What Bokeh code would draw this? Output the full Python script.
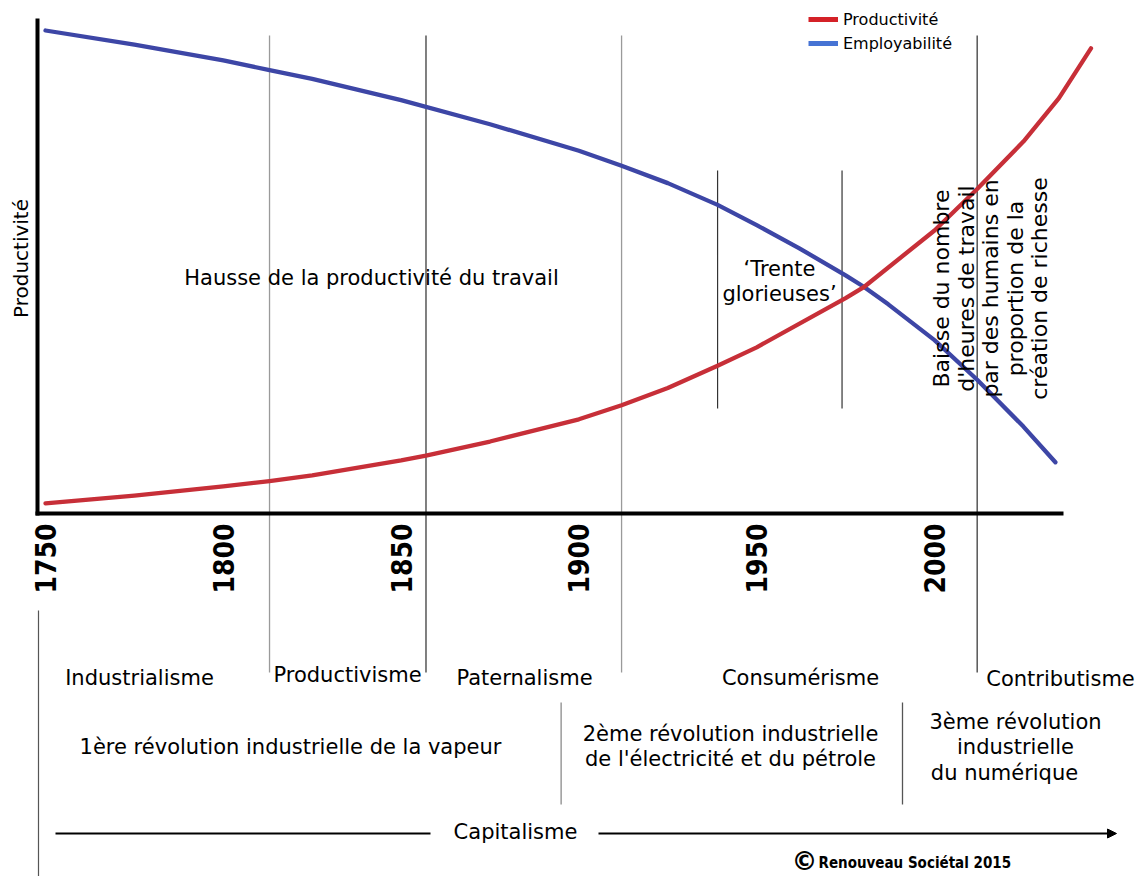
import math
import numpy as np
from bokeh.plotting import figure
from bokeh.models import (Range1d, LinearAxis, FixedTicker, Legend, LegendItem,
                          Arrow, NormalHead)
from bokeh.core.properties import value
from bokeh.embed import file_html
from bokeh.resources import INLINE

# ---------------- data ----------------
prod_years = [1750, 1775, 1800, 1813, 1825, 1850, 1857, 1875, 1900, 1912, 1925,
              1939, 1950, 1975, 1980, 2000, 2012, 2025, 2035, 2044]
prod_vals = [2.1, 3.7, 5.6, 6.7, 7.9, 11.0, 12.0, 14.9, 19.5, 22.4, 26.0,
             30.6, 34.4, 44.6, 46.8, 58.6, 67.2, 77.0, 86.0, 96.3]

emp_years = [1750, 1775, 1800, 1813, 1825, 1850, 1875, 1900, 1912, 1925, 1939, 1950,
             1962, 1975, 1980, 1987, 2000, 2012, 2025, 2034]
emp_vals = [100.0, 97.1, 93.8, 91.8, 90.0, 85.6, 80.6, 75.1, 72.0, 68.4, 63.9, 59.7,
            54.9, 49.3, 47.0, 43.3, 35.9, 27.7, 18.0, 10.6]

tick_years = [1750, 1800, 1850, 1900, 1950, 2000]
tick_labels = ["1750", "1800", "1850", "1900", "1950", "2000"]

era_bounds = [1813, 1857, 1912, 2012]          # ères (Productivisme, Paternalisme, ...)
trente_bounds = [1939, 1974]                   # Trente glorieuses
revolution_bounds = [1895, 1991]               # 1ère / 2ème / 3ème révolution

series_names = ["Productivité", "Employabilité"]

# ---------------- layout helpers (reference pixel -> data) ----------------
PPY = 3.556      # px per year
PPV = 4.83       # px per value unit


def xd(px):
    return 1750 + (px - 45) / PPY


def yd(py):
    return (513 - py) / PPV


W, H = 1138, 876
BODY = "DejaVu Sans"

p = figure(width=W, height=H,
           x_range=Range1d(xd(0), xd(W)),
           y_range=Range1d(yd(H), yd(0)),
           output_backend="svg", toolbar_location=None,
           x_axis_type=None, y_axis_type=None,
           min_border=0, outline_line_color=None,
           background_fill_color="white", border_fill_color="white")

# ---------------- vertical separators ----------------
era_colors = ["#9a9a9a", "#3c3c3c", "#9a9a9a", "#3c3c3c"]
p.segment(x0=era_bounds, y0=[yd(35)] * 4, x1=era_bounds, y1=[yd(672)] * 4,
          line_color=era_colors, line_width=1.3)
p.segment(x0=trente_bounds, y0=[yd(170)] * 2, x1=trente_bounds, y1=[yd(408)] * 2,
          line_color="#333333", line_width=1.2)
p.segment(x0=revolution_bounds, y0=[yd(702)] * 2, x1=revolution_bounds, y1=[yd(804)] * 2,
          line_color=["#8a8a8a", "#555555"], line_width=1.3)
p.segment(x0=[xd(38)], y0=[yd(610)], x1=[xd(38)], y1=[yd(885)],
          line_color="#555555", line_width=1.2)

# ---------------- curves ----------------
p.line(emp_years, emp_vals, line_color="#3d46a6", line_width=4.3,
       line_cap="round", line_join="round")
p.line(prod_years, prod_vals, line_color="#c72f38", line_width=4.3,
       line_cap="round", line_join="round")

# ---------------- axes ----------------
xaxis = LinearAxis(fixed_location=0, ticker=FixedTicker(ticks=tick_years),
                   bounds=(xd(35), xd(1063)),
                   axis_line_width=4, axis_line_color="black",
                   major_tick_line_color=None, minor_tick_line_color=None,
                   major_tick_out=0, major_tick_in=0, major_label_standoff=10,
                   major_label_orientation=math.pi / 2,
                   major_label_overrides=dict(zip(tick_years, tick_labels)),
                   major_label_text_font="DejaVu Sans Condensed, DejaVu Sans",
                   major_label_text_font_size="28px",
                   major_label_text_font_style="bold",
                   major_label_text_color="black")
p.add_layout(xaxis, "below")

yaxis = LinearAxis(fixed_location=xd(37), ticker=FixedTicker(ticks=[]),
                   bounds=(yd(515), yd(18)),
                   axis_line_width=4, axis_line_color="black",
                   major_tick_line_color=None, minor_tick_line_color=None,
                   major_label_text_font_size="0px")
p.add_layout(yaxis, "left")

p.text(x=[xd(20)], y=[yd(258)], text=[series_names[0]], angle=math.pi / 2,
       text_font=value(BODY), text_font_size="20px", text_color="black",
       text_align="center", text_baseline="middle")

# ---------------- legend ----------------
r_leg_red = p.line(np.array([np.nan]), np.array([np.nan]), line_color="#d42127", line_width=5)
r_leg_blue = p.line(np.array([np.nan]), np.array([np.nan]), line_color="#4673d4", line_width=5)
legend = Legend(items=[LegendItem(label=series_names[0], renderers=[r_leg_red]),
                       LegendItem(label=series_names[1], renderers=[r_leg_blue])],
                location=(808, H - 53), orientation="vertical",
                label_text_font=BODY, label_text_font_size="16px",
                label_text_color="black",
                glyph_width=30, glyph_height=20, label_height=20,
                spacing=4, padding=0, margin=0, label_standoff=5,
                border_line_color=None, background_fill_alpha=0)
p.add_layout(legend)


# ---------------- texts ----------------
def txt(px, py, s, size="21px", align="center", angle=0.0, lh=1.2, font=BODY, style="normal"):
    p.text(x=[xd(px)], y=[yd(py)], text=[s], angle=angle,
           text_font=value(font), text_font_size=size, text_font_style=style,
           text_color="black", text_align=align, text_baseline="middle",
           text_line_height=lh)


txt(371, 277, "Hausse de la productivité du travail")
txt(779, 281, "\u2018Trente\nglorieuses\u2019", lh=1.02)
txt(990, 288, "Baisse du nombre\nd'heures de travail\npar des humains en\nproportion de la\ncréation de richesse",
    size="22px", angle=math.pi / 2, lh=0.98)

txt(139, 677, "Industrialisme")
txt(347, 674, "Productivisme")
txt(524, 677, "Paternalisme")
txt(800, 677, "Consumérisme")
txt(1060, 678, "Contributisme")

txt(290, 746, "1ère révolution industrielle de la vapeur")
txt(730, 746, "2ème révolution industrielle\nde l'électricité et du pétrole", lh=1.06)
txt(1015, 721, "3ème révolution")
txt(1015, 746, "industrielle")
txt(1004, 772, "du numérique")

txt(515, 831, "Capitalisme")
p.segment(x0=[xd(55)], y0=[yd(833)], x1=[xd(430)], y1=[yd(833)],
          line_color="black", line_width=2)
p.add_layout(Arrow(end=NormalHead(size=9, fill_color="black", line_color="black"),
                   x_start=xd(598), y_start=yd(833), x_end=xd(1116), y_end=yd(833),
                   line_color="black", line_width=2))

txt(804, 860, "\u00a9", size="26px", font="DejaVu Sans", style="bold")
txt(818, 862, "Renouveau Sociétal 2015", size="15px", align="left",
    font="Liberation Sans Narrow, DejaVu Sans Condensed", style="bold")

open("out.html", "w").write(file_html(p, INLINE))
